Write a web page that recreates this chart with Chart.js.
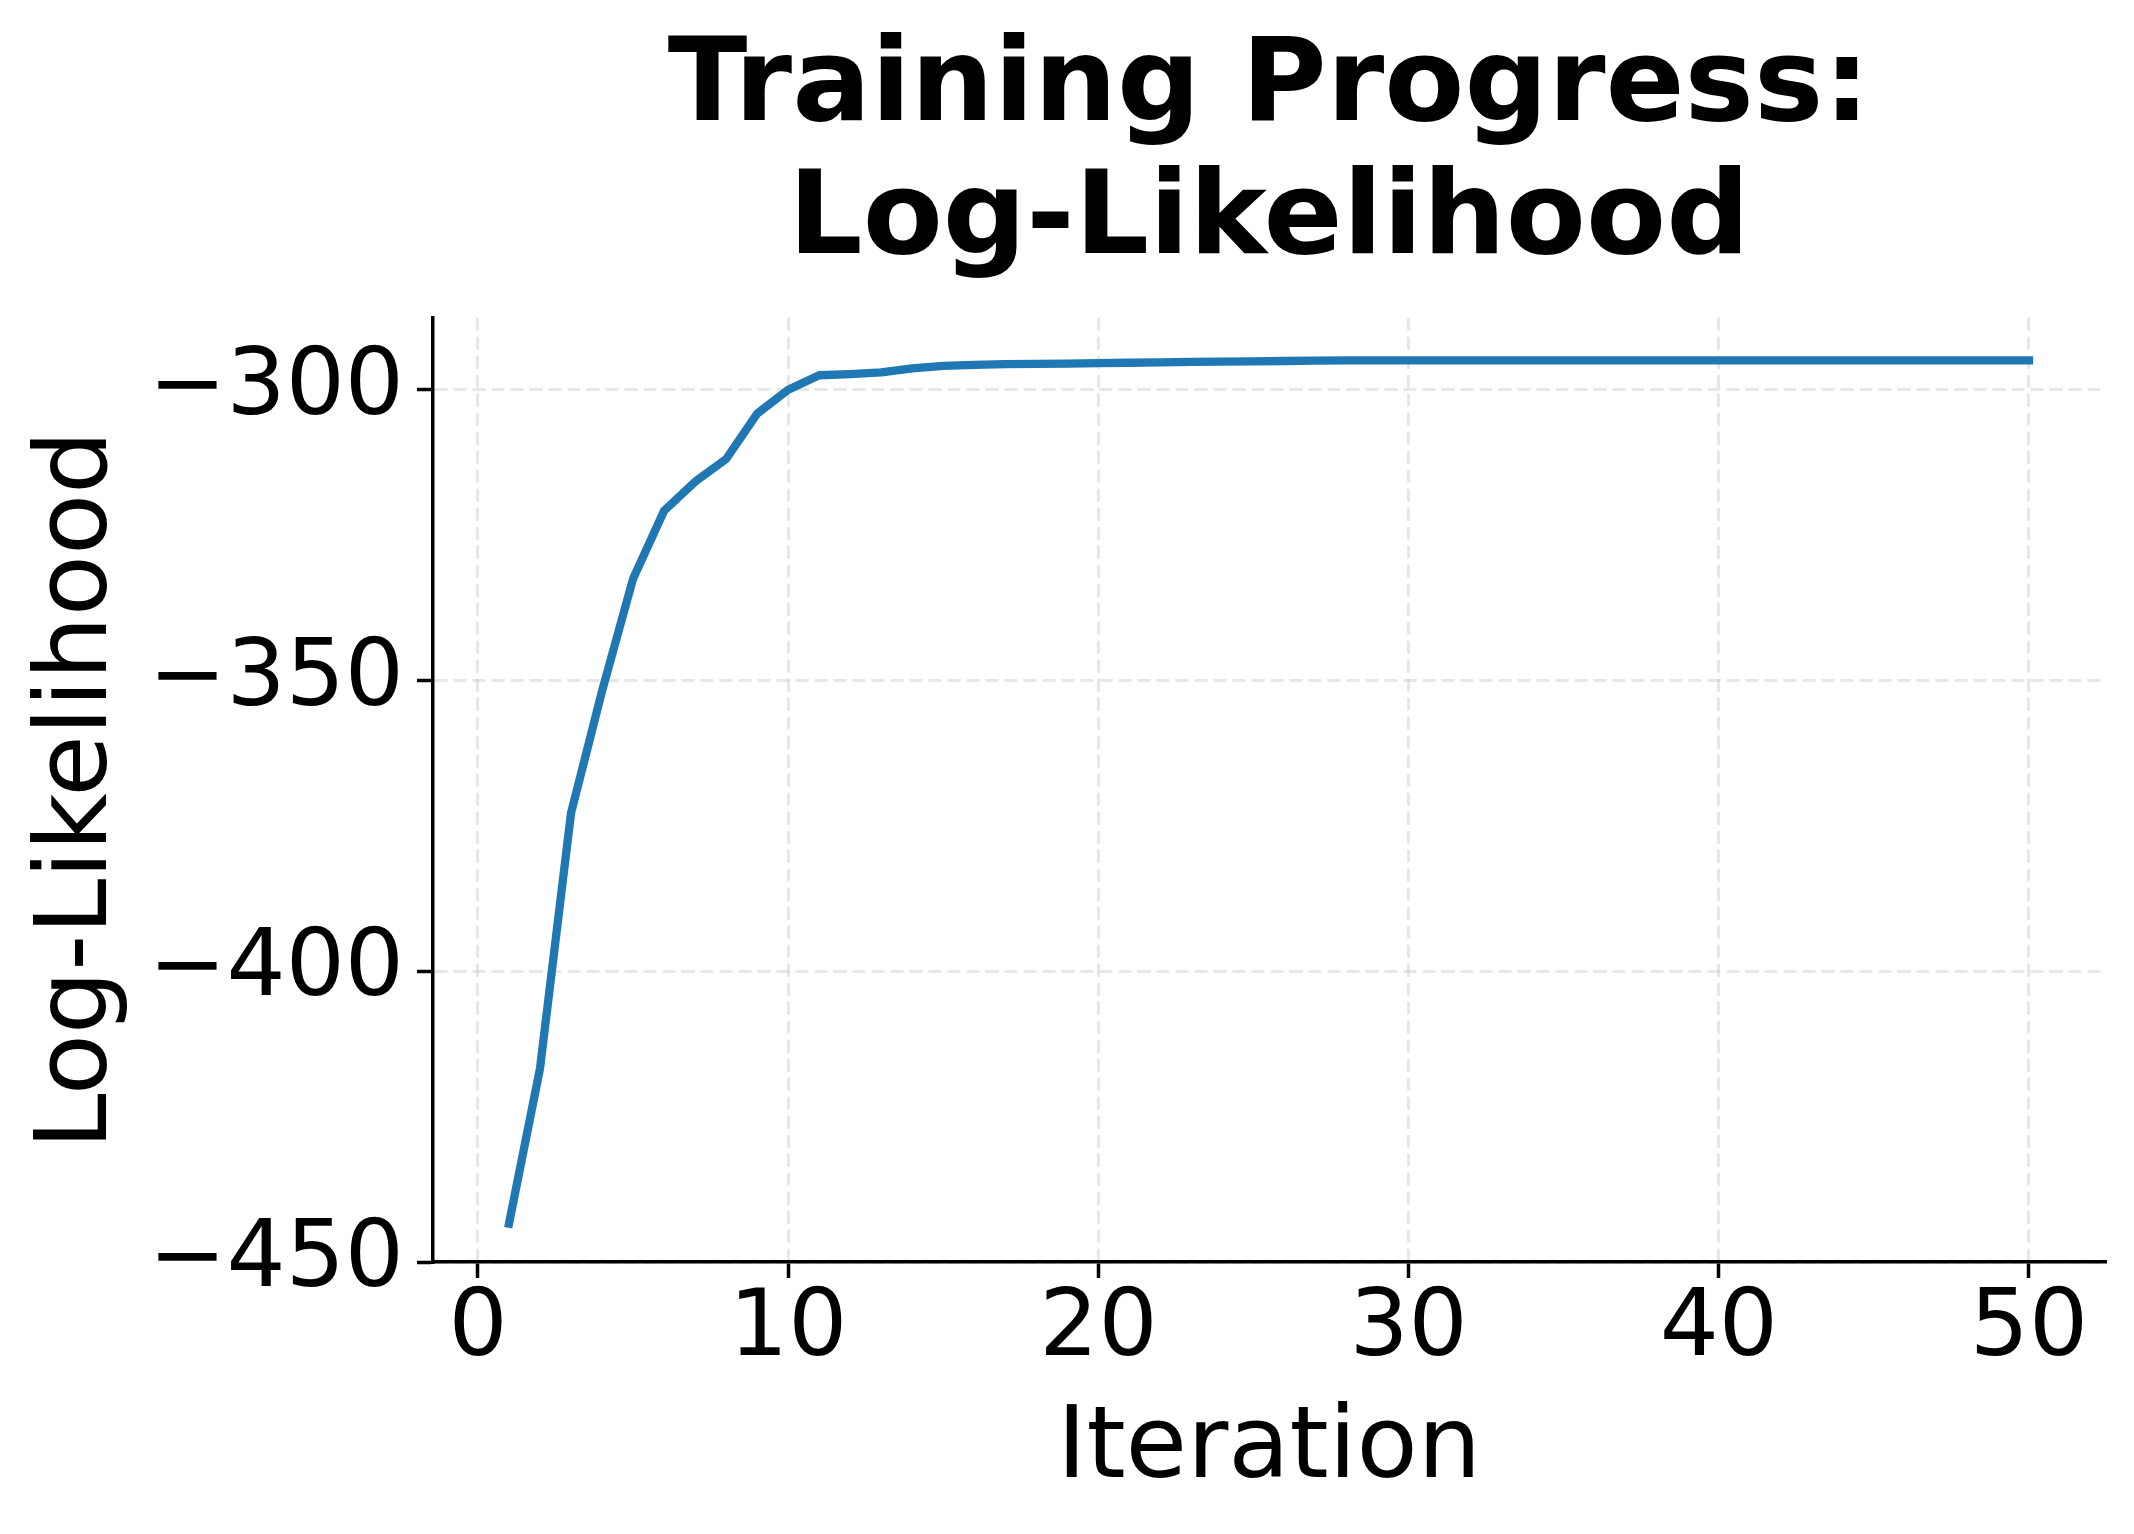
<!DOCTYPE html>
<html>
<head>
<meta charset="utf-8">
<script src="https://cdn.jsdelivr.net/npm/chart.js@4.4.1/dist/chart.umd.min.js"></script>
<style>
  html, body { margin: 0; padding: 0; background: #fff; }
  #chart { display: block; }
</style>
</head>
<body>
<canvas id="chart" width="2134" height="1534" style="width:2134px;height:1534px"></canvas>
<script>
// values
var iterations = [1, 2, 3, 4, 5, 6, 7, 8, 9, 10,
                  11, 12, 13, 14, 15, 16, 17, 18, 19, 20,
                  21, 22, 23, 24, 25, 26, 27, 28, 29, 30,
                  31, 32, 33, 34, 35, 36, 37, 38, 39, 40,
                  41, 42, 43, 44, 45, 46, 47, 48, 49, 50];
var logLikelihood = [-443.4, -416.7, -372.8, -351.8, -332.5, -320.8, -315.8, -311.9, -304.1, -300.0,
                     -297.5, -297.3, -297.0, -296.3, -295.9, -295.7, -295.6, -295.55, -295.5, -295.4,
                     -295.35, -295.3, -295.2, -295.15, -295.1, -295.05, -295.0, -294.95, -294.95, -294.95,
                     -294.95, -294.95, -294.95, -294.95, -294.95, -294.95, -294.95, -294.95, -294.95, -294.95,
                     -294.95, -294.95, -294.95, -294.95, -294.95, -294.95, -294.95, -294.95, -294.95, -294.95];
var titleLines = ['Training Progress:', 'Log-Likelihood'];
var xTicks = [0, 10, 20, 30, 40, 50];
var yTicks = [-450, -400, -350, -300];

var FONT = "'DejaVu Sans', 'Liberation Sans', sans-serif";

var points = iterations.map(function(it, i) {
    return {x: it, y: logLikelihood[i]};
});

function minusLabel(v) {
    return v < 0 ? '\u2212' + Math.abs(v) : String(v);
}

var gridStyle = {
    color: 'rgba(176,176,176,0.3)',
    lineWidth: 3,
    drawTicks: true,
    tickLength: 16,
    tickWidth: 3.5,
    tickColor: '#000',
    tickBorderDash: []
};
var borderStyle = { display: true, color: '#000', width: 3.5, dash: [13, 6] };

var ctx = document.getElementById('chart').getContext('2d');
new Chart(ctx, {
    type: 'line',
    data: {
        datasets: [{
            label: 'Log-Likelihood',
            data: points,
            borderColor: '#1f77b4',
            backgroundColor: '#1f77b4',
            borderWidth: 8.3,
            pointRadius: 0,
            tension: 0,
            fill: false,
            borderCapStyle: 'square',
            borderJoinStyle: 'round'
        }]
    },
    options: {
        responsive: false,
        devicePixelRatio: 1,
        animation: false,
        layout: { padding: { left: 0, right: 29, top: 0, bottom: 0 } },
        plugins: {
            legend: { display: false },
            tooltip: { enabled: false },
            title: {
                display: true,
                fullSize: false,
                text: titleLines,
                color: '#000',
                font: { family: FONT, size: 116.7, weight: 'bold', lineHeight: 1.134 },
                padding: { top: 24, bottom: 29 }
            }
        },
        scales: {
            x: {
                type: 'linear',
                min: -1.45,
                max: 52.45,
                afterFit: function(scale) { scale.height = 272; },
                afterBuildTicks: function(scale) {
                    scale.ticks = xTicks.map(function(v) { return {value: v}; });
                },
                grid: gridStyle,
                border: borderStyle,
                ticks: {
                    color: '#000',
                    padding: 6,
                    maxRotation: 0,
                    autoSkip: false,
                    font: { family: FONT, size: 93, lineHeight: 1.0 },
                    callback: function(v) { return minusLabel(v); }
                },
                title: {
                    display: true,
                    text: 'Iteration',
                    color: '#000',
                    font: { family: FONT, size: 100, lineHeight: 1.2 },
                    padding: { top: 0, bottom: 23 }
                }
            },
            y: {
                type: 'linear',
                min: -450,
                max: -287.6,
                afterFit: function(scale) { scale.width = 433; },
                afterBuildTicks: function(scale) {
                    scale.ticks = yTicks.map(function(v) { return {value: v}; });
                },
                grid: gridStyle,
                border: borderStyle,
                ticks: {
                    color: '#000',
                    padding: 13,
                    autoSkip: false,
                    font: { family: FONT, size: 93 },
                    callback: function(v) { return minusLabel(v); }
                },
                title: {
                    display: true,
                    text: 'Log-Likelihood',
                    color: '#000',
                    font: { family: FONT, size: 100, lineHeight: 1.2 },
                    padding: { top: 20, bottom: 0 }
                }
            }
        }
    }
});
</script>
</body>
</html>
